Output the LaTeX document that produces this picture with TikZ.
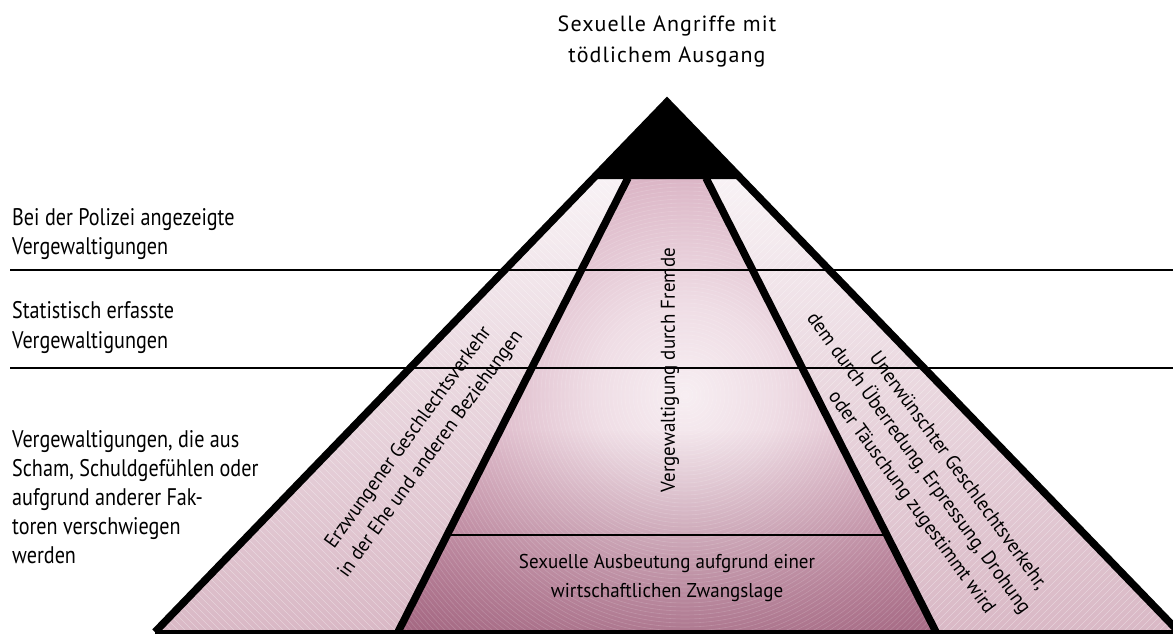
\documentclass[tikz,border=0pt]{standalone}
\usepackage{fontspec}
\usetikzlibrary{fadings}
\setmainfont{PT Sans}
\newfontfamily\sidefont{PT Sans}[FakeStretch=0.84]
\newfontfamily\lblfont{PT Sans}[FakeStretch=0.95]
\newfontfamily\titlefont{PT Sans}[LetterSpace=5]
\definecolor{cA}{HTML}{F7EEF2}
\definecolor{cB}{HTML}{EFDDE5}
\definecolor{cC}{HTML}{D5A9BC}
\definecolor{cD}{HTML}{B47591}
\definecolor{cE}{HTML}{94506E}
\definecolor{cF}{HTML}{7A3352}
\definecolor{sideTop}{HTML}{F8F2F5}
\definecolor{sideBot}{HTML}{D9B8C5}
\pgfdeclareradialshading{centreshade}{\pgfpoint{0bp}{0bp}}{color(0bp)=(cA); color(5.4bp)=(cB); color(15.5bp)=(cC); color(29.8bp)=(cD); color(39.3bp)=(cE); color(47.6bp)=(cF); color(50bp)=(cF)}
\tikzset{
  side/.style={font=\sidefont\fontsize{24}{29}\selectfont, inner sep=0pt},
  ttl/.style={font=\titlefont\fontsize{22}{29}\selectfont, inner sep=0pt},
  lbl/.style={font=\lblfont\fontsize{20}{27.5}\selectfont, inner sep=0pt, align=center},
  thinrule/.style={line width=1.3pt, black},
  thickedge/.style={line width=7.5pt, black, line join=miter},
  hatch/.style={white, opacity=0.35, line width=0.5pt},
  ring/.style={white, opacity=0.16, line width=0.6pt}
}
\begin{document}
\begin{tikzpicture}[x=1pt,y=-1pt]
\useasboundingbox (0,0) rectangle (1173,634);
% key points
\coordinate (A) at (667,102);
\coordinate (OL) at (590.5,179);
\coordinate (OR) at (743.5,179);
\coordinate (BL) at (155,632);
\coordinate (BR) at (1179,632);
\coordinate (IL) at (628,178);
\coordinate (ILB) at (398,632);
\coordinate (IR) at (706,178);
\coordinate (IRB) at (936,632);
\coordinate (HL) at (447,535);
\coordinate (HR) at (887,535);
\coordinate (R1a) at (10,270);
\coordinate (R1b) at (1173,270);
\coordinate (R2a) at (10,368);
\coordinate (R2b) at (1173,368);
\coordinate (GC) at (685,395);
% side regions
\shade[top color=sideTop, bottom color=sideBot] (OL) -- (IL) -- (ILB) -- (BL) -- cycle;
\shade[top color=sideTop, bottom color=sideBot] (IR) -- (OR) -- (BR) -- (IRB) -- cycle;
\begin{scope}
  \clip (OL) -- (IL) -- (ILB) -- (BL) -- cycle;
  \foreach \c in {-480,-473,...,450} \draw[hatch] ({\c+178},178) -- ++(460,460);
\end{scope}
\begin{scope}
  \clip (IR) -- (OR) -- (BR) -- (IRB) -- cycle;
  \foreach \c in {880,887,...,1815} \draw[hatch] ({\c-178},178) -- ++(-460,460);
\end{scope}
% centre region
\begin{scope}
  \clip (IL) -- (IR) -- (IRB) -- (ILB) -- cycle;
  \shade[shading=centreshade] (GC) circle (420);
  \fill[cF, path fading=north, fill opacity=0.45] (390,430) rectangle (950,634);
  \foreach \r in {4,8,...,420} \draw[ring] (GC) circle (\r);
\end{scope}
% black top
\fill[black] (A) -- (OR) -- (OL) -- cycle;
% rules
\draw[thinrule] (R1a) -- (R1b);
\draw[thinrule] (R2a) -- (R2b);
\draw[thinrule] (HL) -- (HR);
% thick edges
\draw[thickedge] (IL) -- (ILB);
\draw[thickedge] (IR) -- (IRB);
\draw[thickedge] (BL) -- (A) -- (BR);
\draw[line width=5pt, black] (BL) -- (BR);
% title
\node[ttl, anchor=base] (h1) at (667,32) {Sexuelle Angriffe mit};
\node[ttl, anchor=base] (h2) at (667,63) {tödlichem Ausgang};
% left column
\node[side, anchor=base west] (p1) at (12,225) {Bei der Polizei angezeigte};
\node[side, anchor=base west] (p2) at (12,254) {Vergewaltigungen};
\node[side, anchor=base west] (s1) at (12,318) {Statistisch erfasste};
\node[side, anchor=base west] (s2) at (12,348) {Vergewaltigungen};
\node[side, anchor=base west] (u1) at (12,447) {Vergewaltigungen, die aus};
\node[side, anchor=base west] (u2) at (12,476) {Scham, Schuldgefühlen oder};
\node[side, anchor=base west] (u3) at (12,505) {aufgrund anderer Fak-};
\node[side, anchor=base west] (u4) at (12,534) {toren verschwiegen};
\node[side, anchor=base west] (u5) at (12,563) {werden};
% pyramid labels
\node[lbl, rotate=90] (vf) at (670,370) {Vergewaltigung durch Fremde};
\node[lbl, anchor=base] (b1) at (667,568) {Sexuelle Ausbeutung aufgrund einer};
\node[lbl, anchor=base] (b2) at (667,597) {wirtschaftlichen Zwangslage};
\node[lbl, rotate=54] (lt) at (420,446) {Erzwungener Geschlechtsverkehr\\in der Ehe und anderen Beziehungen};
\node[lbl, rotate=-54] (r1) at (958,471) {Unerwünschter Geschlechtsverkehr,};
\node[lbl, rotate=-54] (r2) at (919,463) {dem durch Überredung, Erpressung, Drohung};
\node[lbl, rotate=-54] (r3) at (911,503) {oder Täuschung zugestimmt wird};
\end{tikzpicture}
\end{document}
